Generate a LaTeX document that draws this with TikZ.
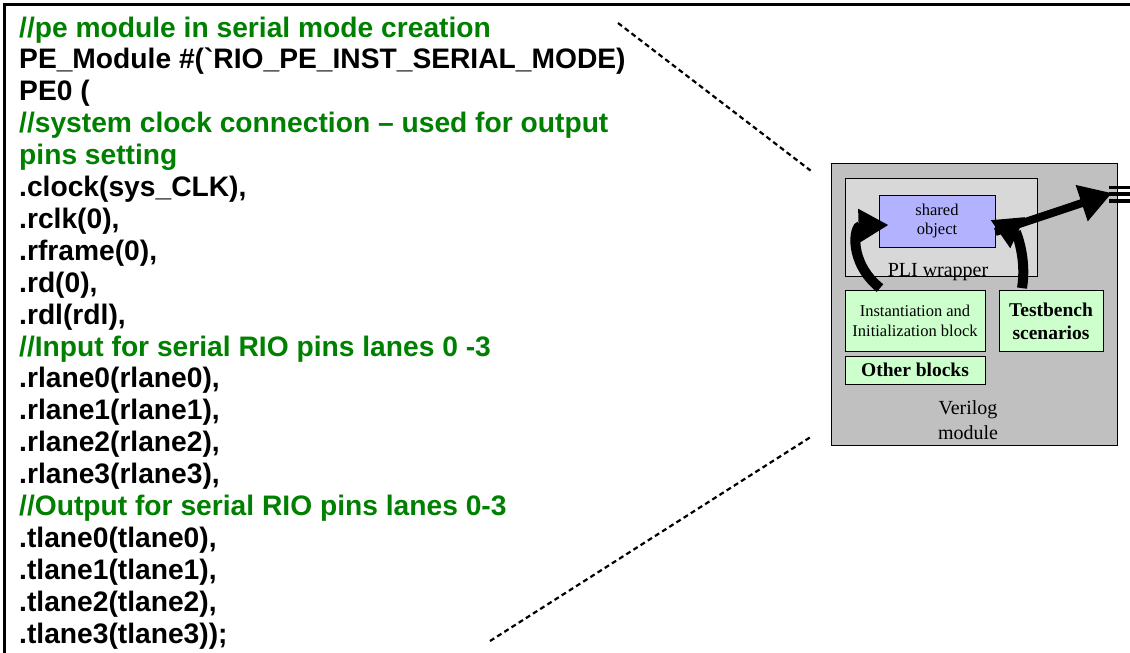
\documentclass[tikz,border=0pt]{standalone}
\usepackage{fontspec}
\setmainfont{Liberation Serif}
\newfontfamily\codefont{Liberation Sans}
\usepackage{tikz}
\usetikzlibrary{arrows.meta}

\definecolor{cmtgreen}{RGB}{0,128,0}
\definecolor{modgray}{RGB}{192,192,192}
\definecolor{pligray}{RGB}{216,216,216}
\definecolor{soblue}{RGB}{178,178,255}
\definecolor{blkgreen}{RGB}{204,255,204}

\tikzset{
  code/.style={anchor=base west, inner sep=0pt, font=\codefont\bfseries\fontsize{28.2}{30}\selectfont},
  cmt/.style={code, text=cmtgreen},
  box/.style={draw=black, line width=0.8pt, inner sep=0pt, align=center},
  fat/.style={line width=10pt, -{Triangle[length=30pt,width=32pt]}},
  guide/.style={line width=2.2pt, dash pattern=on 5pt off 3.5pt}
}

\begin{document}
\begin{tikzpicture}[x=1pt, y=-1pt]
    \useasboundingbox (0,0) rectangle (1130,653);
    % frame of the code listing
    \draw[line width=3pt] (4,653) -- (4,4) -- (1130,4);

    % code listing
    \node[cmt]  (l1)  at (19,37.0)  {//pe module in serial mode creation};
    \node[code] (l2)  at (19,68.9)  {PE\_Module \#(\textasciigrave RIO\_PE\_INST\_SERIAL\_MODE)};
    \node[code] (l3)  at (19,100.8) {PE0 (};
    \node[cmt]  (l4)  at (19,132.7) {//system clock connection – used for output};
    \node[cmt]  (l5)  at (19,164.6) {pins setting};
    \node[code] (l6)  at (19,196.5) {.clock(sys\_CLK),};
    \node[code] (l7)  at (19,228.4) {.rclk(0),};
    \node[code] (l8)  at (19,260.3) {.rframe(0),};
    \node[code] (l9)  at (19,292.2) {.rd(0),};
    \node[code] (l10) at (19,324.1) {.rdl(rdl),};
    \node[cmt]  (l11) at (19,356.0) {//Input for serial RIO pins lanes 0 -3};
    \node[code] (l12) at (19,387.9) {.rlane0(rlane0),};
    \node[code] (l13) at (19,419.8) {.rlane1(rlane1),};
    \node[code] (l14) at (19,451.7) {.rlane2(rlane2),};
    \node[code] (l15) at (19,483.6) {.rlane3(rlane3),};
    \node[cmt]  (l16) at (19,515.5) {//Output for serial RIO pins lanes 0-3};
    \node[code] (l17) at (19,547.4) {.tlane0(tlane0),};
    \node[code] (l18) at (19,579.3) {.tlane1(tlane1),};
    \node[code] (l19) at (19,611.2) {.tlane2(tlane2),};
    \node[code] (l20) at (19,643.1) {.tlane3(tlane3));};

    % verilog module
    \node[box, fill=modgray, minimum width=286pt, minimum height=282pt] (vmod) at (974,304) {};
    \node[font=\fontsize{20}{25}\selectfont, align=center] (vlab) at (968,420) {Verilog\\module};
    \node[box, fill=pligray, minimum width=192pt, minimum height=98pt] (pli) at (941,227) {};
    \node[font=\fontsize{20}{24}\selectfont, inner sep=0pt] (plilab) at (938,272) {PLI wrapper};
    \node[box, fill=soblue, minimum width=116pt, minimum height=52pt,
          font=\fontsize{16.5}{18.5}\selectfont] (so) at (937,221) {shared\\object};
    \node[box, fill=blkgreen, minimum width=140pt, minimum height=61pt,
          font=\fontsize{16.5}{19.5}\selectfont] (inst) at (915,321) {Instantiation and\\Initialization block};
    \node[box, fill=blkgreen, minimum width=104pt, minimum height=61pt,
          font=\bfseries\fontsize{19.5}{23}\selectfont] (tb) at (1051,321) {Testbench\\scenarios};
    \node[box, fill=blkgreen, minimum width=140pt, minimum height=28pt,
          font=\bfseries\fontsize{19.5}{23}\selectfont] (other) at (915,370) {Other blocks};

    % calls into the shared object
    \draw[fat] ([xshift=-35pt,yshift=2pt]inst.north) .. controls (848,262) and (854,226) .. ([xshift=10pt,yshift=-4pt]so.west);
    \draw[fat] ([xshift=-29pt,yshift=2pt]tb.north) .. controls (1027,258) and (1016,232) .. ([xshift=-5pt,yshift=1pt]so.east);
    \coordinate (port) at (1112,193);
    \draw[line width=8pt, -{Triangle[length=32pt,width=36pt]}] ([yshift=-11pt]so.east) -- (port);
    \draw[line width=3.5pt] (1109,187.5) -- (1130,187.5) (1109,194) -- (1130,194) (1109,201) -- (1130,201);

    % zoom guide lines
    \coordinate (gtop) at (618,23);
    \coordinate (gbot) at (490,641);
    \draw[guide] (gtop) -- ([xshift=-20pt,yshift=-8pt]vmod.north west);
    \draw[guide] (gbot) -- ([xshift=-19pt,yshift=9pt]vmod.south west);
\end{tikzpicture}
\end{document}
